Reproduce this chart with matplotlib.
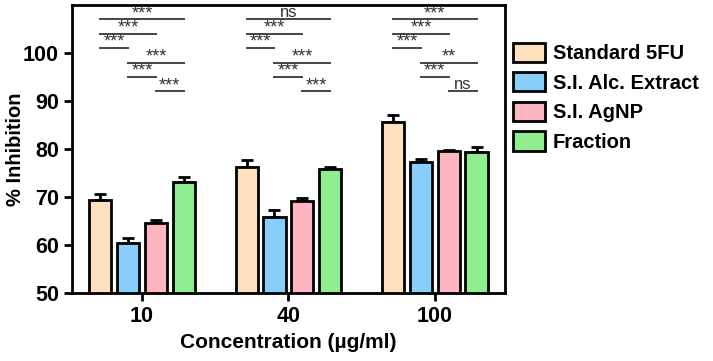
import numpy as np
import matplotlib.pyplot as plt

plt.rcParams['font.family'] = ['Liberation Sans', 'DejaVu Sans']
plt.rcParams['font.weight'] = 'bold'

concs = ['10', '40', '100']
groups = ['Standard 5FU', 'S.I. Alc. Extract', 'S.I. AgNP', 'Fraction']
colors = ['#FFE0BD', '#87CEFA', '#FFB6C1', '#90EE90']

means = {
    'Standard 5FU':      [69.4, 76.3, 85.6],
    'S.I. Alc. Extract': [60.5, 65.9, 77.4],
    'S.I. AgNP':         [64.6, 69.2, 79.7],
    'Fraction':          [73.2, 75.8, 79.4],
}
errs = {
    'Standard 5FU':      [1.3, 1.5, 1.6],
    'S.I. Alc. Extract': [0.9, 1.4, 0.5],
    'S.I. AgNP':         [0.7, 0.7, 0.2],
    'Fraction':          [0.9, 0.4, 1.1],
}

# pairwise comparisons (bar i, bar j, line height)
pairs = [(0, 3, 107), (0, 2, 104), (0, 1, 101), (1, 3, 98), (1, 2, 95), (2, 3, 92)]
sig = [
    ['***', '***', '***', '***', '***', '***'],
    ['ns', '***', '***', '***', '***', '***'],
    ['***', '***', '***', '**', '***', 'ns'],
]

fig = plt.figure(figsize=(7.13, 3.61), dpi=100)
ax = fig.add_axes([0.101, 0.188, 0.607, 0.798])

x = np.arange(len(concs))
width = 0.152
offsets = np.array([-1.5, -0.5, 0.5, 1.5]) * 0.19
for k, g in enumerate(groups):
    ax.bar(x + offsets[k], means[g], width, bottom=0, color=colors[k],
           edgecolor='black', linewidth=2, label=g, zorder=2)
    ax.errorbar(x + offsets[k], means[g], yerr=[np.zeros(3), errs[g]], fmt='none',
                ecolor='black', elinewidth=2, capsize=4.5, capthick=2, zorder=1)

for gi in range(len(concs)):
    for (i, j, h), s in zip(pairs, sig[gi]):
        x1, x2 = gi + offsets[i], gi + offsets[j]
        ax.plot([x1, x2], [h, h], color='#444444', lw=1.4, zorder=3)
        if s == 'ns':
            ax.text((x1 + x2) / 2, h + 0.45, s, ha='center', va='baseline',
                    fontsize=12, color='#333333', fontweight='normal')
        else:
            ax.text((x1 + x2) / 2, h + 0.3, s, ha='center', va='baseline',
                    fontsize=13, color='#333333', fontweight='normal')

ax.set_ylim(50, 110)
ax.set_xlim(-0.478, 2.478)
ax.set_yticks([50, 60, 70, 80, 90, 100])
ax.set_xticks(x)
ax.set_xticklabels(concs)
ax.tick_params(axis='both', labelsize=15.5, width=2, length=6)
for sp in ax.spines.values():
    sp.set_linewidth(2)
ax.set_ylabel('% Inhibition', fontsize=14.5, fontweight='bold')
ax.yaxis.set_label_coords(-0.108, 0.5)
ax.set_xlabel('Concentration (\u00b5g/ml)', fontsize=15, fontweight='bold')

ax.legend(loc='upper left', bbox_to_anchor=(1.02, 0.87), frameon=False,
          prop={'size': 14.5, 'weight': 'bold'}, handlelength=1.55,
          handleheight=1.1, labelspacing=0.45, handletextpad=0.4,
          borderaxespad=0, borderpad=0)

fig.savefig('out.png', dpi=100)
